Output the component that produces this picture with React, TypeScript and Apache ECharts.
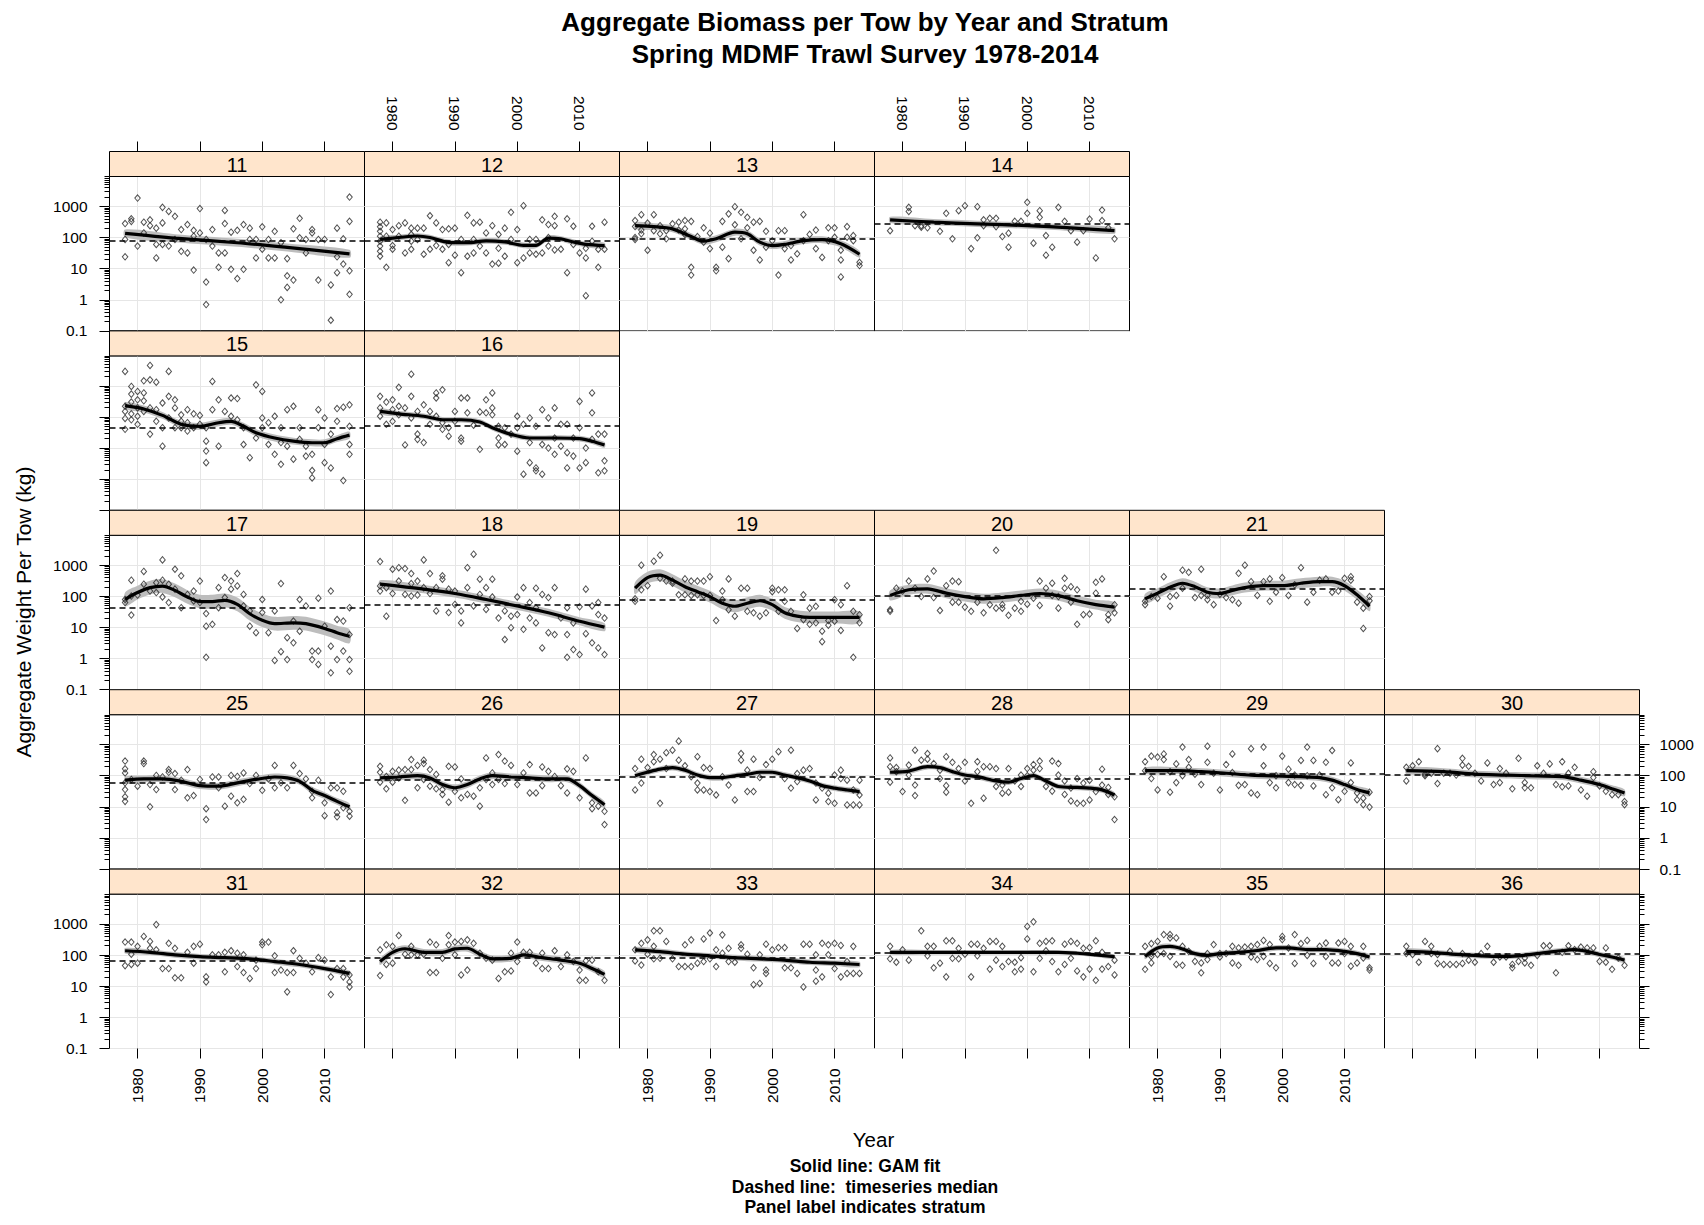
import React, { useEffect, useRef } from 'react';
import * as echarts from 'echarts';

// ---------------- data ----------------
const strata = ['11','12','13','14','15','16','17','18','19','20','21','25','26','27','28','29','30','31','32','33','34','35','36'];

const yearTicks = [1980, 1990, 2000, 2010];
const yearTickLabels = ['1980', '1990', '2000', '2010'];
const yTickValues = [0.1, 1, 10, 100, 1000];
const yTickLabels = ['0.1', '1', '10', '100', '1000'];
const yMinorValues = [0.2,0.3,0.4,0.5,0.6,0.7,0.8,0.9,2,3,4,5,6,7,8,9,20,30,40,50,60,70,80,90,200,300,400,500,600,700,800,900,2000,3000,4000,5000,6000,7000,8000,9000];

type P = [number, number][];

const pts11: P = [[1978,87],[1978,24],[1978,280],[1979,400],[1979,330],[1980,1850],[1980,53],[1981,310],[1981,140],[1982,370],[1982,240],[1983,200],[1983,22],[1983,60],[1984,930],[1984,295],[1984,60],[1985,690],[1985,53],[1986,480],[1986,87],[1987,180],[1987,36],[1988,260],[1988,32],[1989,170],[1989,110],[1989,9],[1990,850],[1990,140],[1991,3.7],[1991,0.7],[1991,87],[1992,180],[1992,53],[1993,11],[1993,32],[1994,740],[1994,280],[1994,32],[1995,148],[1995,9.5],[1996,170],[1996,4.8],[1997,260],[1997,9.5],[1998,200],[1998,87],[1999,22],[1999,87],[2000,220],[2000,42],[2001,87],[2001,22],[2002,158],[2002,22],[2003,1.0],[2003,68],[2004,5.9],[2004,2.5],[2004,21],[2005,190],[2005,4.3],[2006,415],[2006,98],[2007,32],[2007,87],[2008,180],[2008,140],[2009,4.3],[2009,87],[2010,87],[2011,3],[2011,0.22],[2012,200],[2012,24],[2012,7.4],[2013,14],[2013,91],[2014,2000],[2014,330],[2014,8.5],[2014,1.5]];
const pts12: P = [[1978,310],[1978,220],[1978,158],[1978,110],[1978,76],[1978,53],[1978,36],[1978,25],[1979,11],[1979,295],[1979,110],[1980,180],[1980,55],[1980,42],[1981,240],[1981,110],[1982,295],[1982,32],[1983,200],[1983,125],[1983,76],[1983,42],[1984,200],[1984,87],[1985,200],[1985,29],[1986,500],[1986,42],[1987,295],[1987,55],[1988,180],[1988,42],[1989,190],[1989,15.5],[1989,60],[1990,200],[1990,27],[1991,7.4],[1991,87],[1992,515],[1992,25],[1993,295],[1993,87],[1993,32],[1994,310],[1994,53],[1995,140],[1995,32],[1996,240],[1996,14],[1997,125],[1997,15],[1997,45],[1998,200],[1998,25],[1999,645],[1999,87],[2000,180],[2000,15.5],[2001,1050],[2001,22],[2002,87],[2002,32],[2003,87],[2003,29],[2004,370],[2004,32],[2005,260],[2005,53],[2005,100],[2006,480],[2006,240],[2006,40],[2007,42],[2008,400],[2008,7.4],[2009,230],[2009,60],[2010,32],[2011,1.35],[2011,22],[2011,45],[2012,230],[2012,76],[2013,11],[2013,42],[2014,310],[2014,42]];
const pts13: P = [[1978,350],[1978,225],[1978,100],[1978,87],[1979,540],[1979,174],[1979,132],[1980,290],[1980,39],[1981,540],[1981,166],[1982,240],[1982,132],[1983,166],[1983,91],[1984,275],[1985,310],[1985,174],[1986,350],[1986,190],[1986,125],[1987,330],[1987,11],[1987,6.2],[1988,107],[1989,205],[1989,71],[1990,138],[1990,44],[1991,11],[1991,8.5],[1992,330],[1992,49],[1993,575],[1993,21],[1994,980],[1994,257],[1995,645],[1995,91],[1996,447],[1996,205],[1997,310],[1997,39],[1998,330],[1998,19],[1999,158],[1999,49],[2000,79],[2001,166],[2001,6.2],[2002,166],[2002,44],[2003,55],[2003,19],[2004,30],[2005,540],[2005,79],[2006,126],[2007,174],[2007,44],[2008,23],[2009,205],[2009,79],[2010,205],[2010,102],[2011,39],[2011,19],[2011,5.4],[2012,224],[2012,102],[2013,115],[2013,79],[2014,16],[2014,12.6]];
const pts14: P = [[1978,165],[1981,930],[1981,690],[1982,240],[1983,240],[1983,215],[1984,205],[1986,158],[1987,600],[1988,91],[1989,725],[1990,1050],[1991,44],[1992,980],[1992,98],[1993,370],[1993,240],[1994,415],[1995,415],[1995,224],[1996,107],[1997,138],[1997,49],[1998,330],[1999,330],[2000,1350],[2000,600],[2001,66],[2002,725],[2002,447],[2003,115],[2003,27],[2004,49],[2005,930],[2006,330],[2007,166],[2008,71],[2009,166],[2010,390],[2011,22],[2012,760],[2012,350],[2013,205],[2014,91]];
const pts15: P = [[1978,2900],[1978,220],[1978,150],[1978,89],[1978,40],[1979,950],[1979,540],[1979,300],[1979,126],[1979,81],[1980,660],[1980,355],[1980,195],[1980,105],[1980,58],[1981,1450],[1981,590],[1981,330],[1981,150],[1982,4500],[1982,1550],[1982,195],[1982,28],[1983,1300],[1983,170],[1983,72],[1984,280],[1984,45],[1984,11.5],[1985,2900],[1985,457],[1985,93],[1986,355],[1986,195],[1986,45],[1987,117],[1987,72],[1987,45],[1988,170],[1988,65],[1988,35],[1989,126],[1989,45],[1990,112],[1990,58],[1991,16.6],[1991,8],[1991,3.4],[1991,45],[1992,1380],[1992,170],[1993,355],[1993,11.5],[1994,150],[1995,405],[1995,105],[1996,390],[1996,81],[1997,45],[1997,13],[1998,4.9],[1999,1070],[1999,21],[2000,660],[2000,93],[2000,45],[2001,65],[2001,13],[2002,105],[2002,6.3],[2003,45],[2003,15],[2003,3],[2004,170],[2004,11.5],[2005,220],[2005,4.4],[2006,45],[2006,19],[2007,11.5],[2007,5.5],[2008,6.3],[2008,1.9],[2008,1.1],[2009,170],[2009,45],[2010,93],[2010,13],[2010,3.4],[2011,28],[2011,2.3],[2012,186],[2012,72],[2013,205],[2013,0.9],[2014,245],[2014,50],[2014,13],[2014,6.3]];
const pts16: P = [[1978,457],[1978,195],[1978,105],[1979,300],[1979,58],[1980,355],[1980,170],[1980,72],[1981,890],[1981,220],[1981,117],[1982,195],[1982,12.6],[1983,2350],[1983,457],[1983,93],[1984,150],[1984,28],[1984,19],[1985,245],[1985,15],[1986,150],[1986,58],[1987,590],[1987,405],[1987,105],[1988,745],[1988,65],[1988,40],[1989,45],[1989,24],[1990,150],[1990,72],[1991,405],[1991,21],[1991,16.6],[1992,405],[1992,135],[1993,54],[1994,145],[1994,9.1],[1995,355],[1995,135],[1996,590],[1996,195],[1996,117],[1997,50],[1997,21],[1997,12.6],[1998,45],[1998,13],[1999,28],[2000,105],[2000,45],[2000,7.9],[2001,58],[2001,1.45],[2002,93],[2002,15],[2002,3.4],[2003,50],[2003,2.3],[2003,1.85],[2004,170],[2004,13],[2004,1.45],[2005,93],[2005,10],[2006,195],[2006,21],[2006,6.3],[2007,58],[2007,11.5],[2008,58],[2008,7.1],[2008,2.3],[2009,21],[2009,5.5],[2010,316],[2010,45],[2010,2.3],[2011,10],[2011,3.4],[2012,590],[2012,135],[2012,19],[2013,28],[2013,1.6],[2014,28],[2014,3.9],[2014,1.85]];
const pts17: P = [[1978,63],[1978,79],[1979,330],[1979,102],[1979,25],[1980,110],[1981,630],[1981,245],[1982,148],[1983,275],[1983,132],[1984,1480],[1984,330],[1984,95],[1985,245],[1985,63],[1986,740],[1986,170],[1987,457],[1987,43],[1988,115],[1989,148],[1989,71],[1990,310],[1990,63],[1991,28],[1991,11],[1991,1.1],[1992,12.6],[1993,190],[1993,43],[1994,400],[1994,91],[1995,310],[1995,170],[1996,540],[1996,215],[1997,115],[1997,49],[1998,34],[1998,11],[1999,6.8],[2000,79],[2000,30],[2001,6.8],[2002,34],[2002,0.87],[2003,257],[2003,1.66],[2004,4.7],[2004,0.93],[2005,16],[2005,3.2],[2006,79],[2006,7.6],[2007,49],[2008,1.74],[2008,0.93],[2009,87],[2009,1.74],[2009,0.65],[2010,11],[2011,148],[2011,2.5],[2011,0.35],[2012,18],[2012,0.93],[2013,1.74],[2013,16],[2014,43],[2014,5.9],[2014,0.93],[2014,0.39]];
const pts18: P = [[1978,1310],[1978,215],[1978,148],[1979,190],[1979,23],[1980,740],[1980,123],[1981,830],[1981,310],[1982,780],[1982,115],[1983,540],[1983,257],[1983,102],[1984,310],[1984,110],[1985,1480],[1985,190],[1986,540],[1986,123],[1987,190],[1987,34],[1988,457],[1988,355],[1989,170],[1989,30],[1990,148],[1990,55],[1991,34],[1991,14],[1992,830],[1992,190],[1993,2250],[1993,49],[1994,355],[1994,115],[1995,190],[1995,38],[1996,355],[1996,95],[1997,20],[1998,4.1],[1998,34],[1999,23],[1999,9.8],[2000,95],[2000,26],[2001,190],[2001,8.7],[2002,63],[2002,20],[2003,182],[2003,43],[2003,14],[2004,115],[2004,2.2],[2005,91],[2005,6.8],[2006,190],[2006,5.9],[2007,20],[2008,43],[2008,5.9],[2008,1.1],[2009,14],[2009,1.95],[2010,46],[2010,1.35],[2011,170],[2011,6.3],[2012,49],[2012,3.2],[2013,63],[2013,26],[2013,2.2],[2014,20],[2014,1.35]];
const pts19: P = [[1978,69],[1978,83],[1979,1000],[1979,162],[1980,219],[1981,1340],[1982,2090],[1982,380],[1983,310],[1984,310],[1984,263],[1985,112],[1986,363],[1986,112],[1987,310],[1987,107],[1988,310],[1988,112],[1989,310],[1989,107],[1990,426],[1990,107],[1991,16.6],[1992,148],[1992,78],[1993,363],[1993,37],[1994,23],[1995,182],[1996,182],[1996,33],[1997,29.5],[1998,23],[1999,29.5],[2000,182],[2000,141],[2001,162],[2001,33],[2002,162],[2002,69],[2003,33],[2004,9.3],[2005,112],[2005,17.8],[2006,41.7],[2006,12.6],[2007,47.9],[2007,14.1],[2008,7.6],[2008,3.5],[2009,16.6],[2009,11.8],[2010,78],[2010,15.8],[2011,53.7],[2011,8],[2012,219],[2013,33],[2013,1.1],[2014,25.7],[2014,14.1]];
const pts20: P = [[1978,37],[1978,33],[1979,182],[1980,148],[1981,310],[1982,182],[1983,98],[1984,363],[1985,646],[1985,91],[1986,35],[1987,219],[1988,310],[1988,65],[1989,295],[1989,65],[1990,45],[1991,33],[1992,65],[1993,29.5],[1994,53.7],[1995,3000],[1995,41.7],[1996,53.7],[1996,41.7],[1997,24.5],[1998,41.7],[1999,69],[1999,33],[2000,56],[2001,87],[2002,310],[2002,51],[2003,182],[2004,263],[2004,107],[2005,98],[2005,41.7],[2006,380],[2006,182],[2007,204],[2007,65],[2008,162],[2008,12.6],[2009,25.7],[2010,27],[2011,282],[2011,126],[2012,363],[2013,25.7],[2013,17.8],[2014,53.7],[2014,29.5]];
const pts21: P = [[1978,69],[1978,54],[1979,98],[1980,87],[1981,426],[1982,98],[1982,48],[1983,107],[1984,692],[1984,182],[1985,589],[1986,91],[1987,741],[1987,107],[1988,107],[1988,78],[1989,54],[1990,117],[1991,91],[1992,78],[1993,550],[1993,60],[1994,1000],[1995,295],[1996,107],[1997,295],[1998,363],[1998,69],[1999,135],[2000,398],[2001,107],[2002,234],[2003,832],[2004,65],[2005,135],[2006,331],[2007,363],[2008,135],[2009,148],[2010,380],[2011,426],[2011,331],[2012,65],[2013,41.7],[2013,9.3],[2014,98],[2014,72]];
const pts25: P = [[1978,295],[1978,166],[1978,123],[1978,59],[1978,36],[1978,21],[1978,15],[1979,76],[1980,46],[1981,295],[1981,245],[1982,52],[1982,10],[1983,36],[1983,102],[1984,91],[1985,158],[1985,129],[1986,117],[1986,36],[1987,72],[1988,158],[1988,19.5],[1989,23],[1990,76],[1991,8.7],[1991,3.9],[1992,91],[1993,91],[1993,41],[1994,10.5],[1995,102],[1995,22],[1996,95],[1996,13.5],[1997,123],[1997,17.4],[1998,56],[1999,102],[2000,34],[2001,79],[2002,214],[2002,41],[2003,59],[2004,41],[2005,214],[2006,117],[2007,79],[2008,31.6],[2008,19.5],[2009,72],[2010,13.5],[2010,5.2],[2011,41],[2012,41],[2012,6.5],[2012,4.8],[2013,31.6],[2013,9.3],[2014,7.2],[2014,5]];
const pts26: P = [[1978,200],[1978,129],[1978,62],[1979,95],[1979,38],[1980,138],[1980,62],[1981,151],[1981,85],[1982,158],[1982,16.2],[1983,331],[1983,158],[1984,214],[1984,41],[1985,316],[1985,245],[1985,76],[1986,158],[1986,46],[1987,110],[1987,38],[1988,36],[1988,25],[1989,200],[1989,14.1],[1990,191],[1990,31.6],[1991,79],[1991,19.5],[1992,25],[1993,22],[1994,41],[1994,10.5],[1995,372],[1995,76],[1996,123],[1996,52],[1997,479],[1997,76],[1998,295],[1998,56],[1999,214],[2000,52],[2001,123],[2002,229],[2002,28],[2003,28],[2004,191],[2004,48],[2005,138],[2006,95],[2007,48],[2008,166],[2008,28],[2009,138],[2010,19.5],[2011,372],[2012,13.5],[2012,8.7],[2013,10.5],[2014,7.2],[2014,2.7]];
const pts27: P = [[1978,170],[1978,35],[1979,340],[1979,58],[1980,182],[1981,479],[1981,282],[1982,340],[1982,13],[1983,550],[1983,170],[1984,660],[1985,1290],[1985,316],[1986,209],[1987,93],[1988,407],[1988,58],[1988,35],[1989,182],[1989,35],[1990,170],[1990,31],[1991,24],[1992,93],[1993,50],[1994,16.6],[1995,513],[1995,316],[1996,151],[1996,31],[1997,340],[1997,31],[1998,87],[1999,229],[2000,340],[2001,589],[2002,81],[2003,660],[2003,40],[2004,117],[2004,65],[2005,151],[2006,170],[2007,58],[2007,16.6],[2008,40],[2009,27.5],[2009,14.8],[2010,105],[2010,13],[2011,151],[2011,81],[2012,72],[2012,11.5],[2013,35],[2013,11.5],[2014,72],[2014,24],[2014,11.5]];
const pts28: P = [[1978,372],[1978,195],[1978,62],[1979,182],[1979,135],[1980,31],[1981,219],[1981,105],[1982,660],[1982,50],[1982,23],[1983,316],[1984,513],[1984,340],[1985,245],[1986,151],[1986,81],[1987,407],[1987,48],[1987,29.5],[1988,269],[1989,170],[1990,269],[1990,68],[1991,13],[1992,282],[1992,135],[1993,195],[1993,19],[1994,195],[1995,170],[1995,45],[1996,50],[1996,27.5],[1997,170],[1997,29.5],[1998,68],[1999,105],[1999,45],[2000,170],[2000,100],[2001,229],[2001,151],[2002,295],[2002,170],[2003,45],[2004,295],[2004,32],[2005,245],[2005,105],[2006,68],[2006,25],[2007,40],[2007,15.5],[2008,81],[2008,13],[2009,58],[2009,13],[2010,72],[2010,16.6],[2011,31],[2012,162],[2012,50],[2013,42],[2013,25],[2014,21],[2014,3.9]];
const pts29: P = [[1978,282],[1978,145],[1979,426],[1979,81],[1980,398],[1980,35],[1981,501],[1981,331],[1982,135],[1982,29.5],[1983,240],[1983,60],[1984,832],[1984,100],[1985,331],[1985,186],[1986,112],[1987,52],[1988,891],[1988,269],[1989,120],[1990,35],[1991,229],[1992,501],[1992,126],[1993,49],[1994,52],[1995,741],[1995,28],[1996,24.5],[1997,832],[1997,209],[1998,60],[1999,100],[1999,41],[2000,426],[2001,162],[2001,60],[2002,105],[2002,52],[2003,309],[2003,49],[2004,832],[2004,100],[2005,309],[2005,47],[2006,105],[2007,269],[2007,24.5],[2008,646],[2008,41],[2009,17],[2010,31.6],[2011,257],[2011,60],[2012,28],[2012,17],[2013,19],[2013,11.7],[2014,29.5],[2014,9.8]];
const pts30: P = [[1979,186],[1979,68],[1980,209],[1981,282],[1982,112],[1982,100],[1983,120],[1984,741],[1984,56],[1985,120],[1986,120],[1987,105],[1988,363],[1988,219],[1989,200],[1990,120],[1991,68],[1992,257],[1993,52],[1994,170],[1994,60],[1995,120],[1996,38],[1997,363],[1998,60],[1998,41],[1999,41],[2000,209],[2001,120],[2002,240],[2003,52],[2004,282],[2004,44],[2005,120],[2005,47],[2006,186],[2007,35],[2008,22],[2009,135],[2009,87],[2010,47],[2011,31.6],[2012,24.5],[2013,24.5],[2014,14.8],[2014,11.7]];
const pts31: P = [[1978,263],[1978,46],[1979,263],[1979,107],[1979,50],[1980,191],[1980,55],[1981,398],[1982,275],[1982,166],[1983,955],[1983,148],[1984,37],[1985,240],[1985,37],[1986,166],[1986,18.6],[1987,18.6],[1988,123],[1989,191],[1989,55],[1990,224],[1991,20],[1991,13.8],[1992,102],[1993,102],[1994,123],[1994,29],[1995,138],[1996,115],[1996,43],[1997,102],[1997,27.5],[1998,17.8],[1999,69],[1999,37],[2000,214],[2000,263],[2001,263],[2002,95],[2002,27.5],[2003,33],[2004,6.6],[2004,27.5],[2005,138],[2005,27.5],[2006,79],[2007,55],[2008,29],[2009,83],[2010,69],[2011,20],[2011,5.4],[2012,37],[2013,37],[2013,20],[2014,23],[2014,13.8],[2014,9.5]];
const pts32: P = [[1978,148],[1978,22],[1979,214],[1979,50],[1980,191],[1980,55],[1981,426],[1982,107],[1983,191],[1983,102],[1984,102],[1985,107],[1986,263],[1986,27.5],[1987,214],[1987,27.5],[1988,79],[1989,426],[1989,214],[1990,263],[1990,102],[1991,275],[1991,23],[1992,309],[1992,33],[1993,240],[1994,115],[1995,79],[1996,69],[1997,17.8],[1998,29],[1999,115],[1999,31],[2000,263],[2000,62],[2001,123],[2002,123],[2003,55],[2004,115],[2004,37],[2005,37],[2006,138],[2007,43],[2008,102],[2009,62],[2010,33],[2010,15.5],[2011,65],[2011,15.5],[2012,69],[2013,29],[2014,15.5]];
const pts33: P = [[1978,148],[1978,65],[1979,240],[1979,48],[1980,309],[1980,107],[1981,603],[1981,191],[1981,76],[1982,603],[1982,79],[1983,275],[1984,76],[1985,43],[1986,214],[1986,43],[1987,309],[1987,43],[1988,55],[1989,331],[1989,62],[1990,513],[1990,76],[1991,148],[1991,43],[1992,447],[1992,115],[1993,166],[1993,62],[1994,59],[1995,214],[1995,166],[1996,107],[1997,39],[1997,11.2],[1998,102],[1998,12.3],[1999,224],[1999,33],[1999,25.7],[2000,148],[2001,174],[2002,174],[2002,39],[2003,39],[2004,25.7],[2005,224],[2005,9.5],[2006,224],[2007,102],[2007,33],[2007,14.5],[2008,240],[2008,20],[2009,214],[2009,102],[2010,240],[2010,37],[2011,204],[2011,20],[2012,62],[2012,25.7],[2013,191],[2013,25.7],[2014,25.7]];
const pts34: P = [[1978,191],[1978,76],[1979,59],[1980,148],[1981,69],[1983,603],[1984,191],[1984,95],[1985,191],[1985,39],[1986,55],[1987,288],[1987,20],[1988,288],[1988,79],[1989,166],[1989,76],[1990,107],[1991,224],[1991,20],[1992,224],[1992,95],[1993,166],[1994,275],[1994,35.5],[1995,275],[1995,69],[1996,191],[1996,43],[1997,62],[1998,59],[1998,29],[1999,83],[1999,35.5],[2000,832],[2000,331],[2001,1175],[2001,29],[2002,240],[2002,79],[2003,275],[2003,138],[2004,288],[2004,62],[2005,29],[2006,224],[2006,50],[2007,275],[2007,79],[2008,240],[2008,31],[2009,166],[2009,20],[2010,174],[2010,35.5],[2011,288],[2011,15.5],[2012,123],[2012,35.5],[2013,43],[2014,69],[2014,23]];
const pts35: P = [[1978,191],[1978,35],[1979,234],[1979,112],[1979,91],[1979,56],[1980,275],[1980,105],[1981,457],[1981,112],[1982,457],[1982,355],[1982,91],[1983,355],[1983,50],[1984,191],[1984,47],[1985,132],[1986,63],[1987,56],[1987,27],[1988,112],[1988,72],[1989,219],[1990,112],[1990,87],[1991,112],[1992,191],[1992,56],[1993,170],[1993,47],[1994,182],[1995,191],[1995,87],[1996,72],[1996,219],[1997,295],[1997,91],[1998,219],[1998,54],[1999,39],[2000,398],[2000,316],[2001,170],[2002,457],[2002,54],[2003,234],[2004,295],[2004,98],[2005,54],[2006,191],[2007,245],[2007,91],[2008,56],[2009,245],[2009,56],[2010,275],[2010,112],[2011,191],[2011,44],[2012,56],[2013,191],[2013,81],[2014,39],[2014,33]];
const pts36: P = [[1979,191],[1979,112],[1980,105],[1981,59],[1982,275],[1983,191],[1983,112],[1984,105],[1984,54],[1985,50],[1986,132],[1986,50],[1987,50],[1988,112],[1988,54],[1989,69],[1990,59],[1991,112],[1992,191],[1993,59],[1994,87],[1995,87],[1996,50],[1996,39],[1997,63],[1998,81],[1998,56],[1999,47],[2000,98],[2001,200],[2002,200],[2003,27],[2004,123],[2005,200],[2006,150],[2007,182],[2008,170],[2009,170],[2010,63],[2011,170],[2011,59],[2012,35],[2013,81],[2014,47]];

// GAM fit (kg) read at a few years along each solid line
const fit11: P = [[1978,135],[1986,95],[1996,68],[2004,48],[2014,30]];
const fit12: P = [[1978,87],[1981,100],[1984,112],[1986,100],[1989,70],[1992,68],[1995,78],[1998,72],[2001,56],[2003,56],[2005,95],[2007,90],[2009,72],[2011,60],[2014,55]];
const fit13: P = [[1978,240],[1981,224],[1984,190],[1987,107],[1989,76],[1991,91],[1994,148],[1996,132],[1998,71],[2000,55],[2002,60],[2005,79],[2008,85],[2011,63],[2014,29]];
const fit14: P = [[1978,370],[1985,310],[1992,275],[2000,240],[2007,204],[2014,166]];
const fit15: P = [[1978,230],[1981,180],[1984,112],[1987,58],[1990,50],[1993,65],[1995,72],[1997,50],[1999,31],[2002,21],[2005,16.6],[2008,14.8],[2010,14.8],[2012,20],[2014,26]];
const fit16: P = [[1978,151],[1981,126],[1985,105],[1988,81],[1991,81],[1994,69],[1996,45],[1999,27.5],[2002,21],[2006,21],[2010,20],[2012,16.6],[2014,12.6]];
const fit17: P = [[1978,80],[1980,132],[1982,190],[1984,214],[1986,155],[1988,95],[1990,68],[1992,68],[1994,74],[1996,55],[1998,27.5],[2000,17],[2002,13.2],[2005,14.1],[2007,13.2],[2010,9.3],[2012,6.8],[2014,5.2]];
const fit18: P = [[1978,245],[1985,170],[1990,123],[1995,79],[2000,49],[2005,29.5],[2010,15.8],[2014,10.2]];
const fit19: P = [[1978,182],[1980,398],[1982,479],[1984,331],[1986,204],[1988,141],[1990,98],[1992,60],[1994,48],[1996,60],[1998,72],[2000,54],[2002,29.5],[2004,23],[2006,21],[2010,21],[2014,21]];
const fit20: P = [[1978,107],[1981,162],[1984,174],[1987,126],[1990,98],[1993,83],[1996,91],[1999,107],[2002,123],[2005,105],[2008,72],[2011,54],[2014,45]];
const fit21: P = [[1978,83],[1980,126],[1982,195],[1984,263],[1986,204],[1988,135],[1990,123],[1992,155],[1994,191],[1997,219],[2000,219],[2003,263],[2006,295],[2008,295],[2010,219],[2012,112],[2014,48]];
const fit25: P = [[1978,72],[1981,79],[1984,79],[1987,66],[1990,48],[1993,46],[1996,59],[1999,76],[2002,91],[2004,85],[2006,66],[2008,34],[2010,23],[2012,15],[2014,10]];
const fit26: P = [[1978,85],[1981,91],[1984,100],[1986,85],[1988,52],[1990,41],[1992,52],[1994,79],[1996,100],[1999,91],[2002,85],[2005,79],[2008,79],[2010,48],[2012,23],[2014,11.7]];
const fit27: P = [[1978,100],[1980,129],[1982,162],[1984,182],[1986,151],[1988,105],[1990,87],[1992,87],[1994,100],[1996,110],[1998,129],[2000,129],[2002,105],[2004,87],[2006,68],[2008,48],[2010,40],[2012,35],[2014,31]];
const fit28: P = [[1978,129],[1981,141],[1984,195],[1986,182],[1988,135],[1990,105],[1992,93],[1995,68],[1997,62],[1999,81],[2001,100],[2003,68],[2005,45],[2008,42],[2010,40],[2012,35],[2014,24]];
const fit29: P = [[1978,145],[1983,145],[1987,135],[1991,120],[1995,105],[1999,98],[2003,93],[2006,87],[2008,72],[2010,52],[2012,36],[2014,28]];
const fit30: P = [[1979,145],[1985,135],[1990,112],[1995,105],[2000,98],[2004,93],[2007,72],[2010,52],[2012,38],[2014,28]];
const fit31: P = [[1978,138],[1982,123],[1986,102],[1990,89],[1994,83],[1998,76],[2002,62],[2006,50],[2010,37],[2014,26]];
const fit32: P = [[1978,62],[1980,123],[1982,160],[1985,123],[1988,123],[1990,158],[1992,166],[1994,107],[1996,76],[1999,79],[2001,102],[2004,83],[2007,69],[2010,55],[2012,37],[2014,24]];
const fit33: P = [[1978,148],[1982,129],[1986,107],[1990,95],[1994,83],[1998,76],[2002,69],[2006,59],[2010,55],[2014,50]];
const fit34: P = [[1978,123],[1985,123],[1990,123],[1995,123],[2000,123],[2005,123],[2008,115],[2011,102],[2014,89]];
const fit35: P = [[1978,91],[1980,170],[1982,190],[1984,158],[1986,112],[1988,98],[1990,112],[1993,123],[1996,141],[1999,170],[2001,170],[2004,151],[2007,151],[2010,132],[2012,112],[2014,87]];
const fit36: P = [[1979,132],[1983,123],[1987,105],[1991,95],[1994,91],[1997,95],[2000,112],[2003,132],[2006,151],[2008,132],[2010,105],[2012,87],[2014,69]];

// timeseries medians (kg) and GAM band half-widths (log10 units)
const medianKg = [81, 79, 90, 275, 45, 54, 43, 52, 78, 102, 170, 59, 72, 93, 82, 112, 105, 66, 83, 83, 123, 112, 112];
const bandHalfLog = [0.13, 0.09, 0.11, 0.1, 0.11, 0.09, 0.22, 0.13, 0.19, 0.16, 0.16, 0.11, 0.11, 0.09, 0.09, 0.11, 0.11, 0.09, 0.11, 0.09, 0.07, 0.09, 0.09];

const ptsAll = [pts11, pts12, pts13, pts14, pts15, pts16, pts17, pts18, pts19, pts20, pts21, pts25, pts26, pts27, pts28, pts29, pts30, pts31, pts32, pts33, pts34, pts35, pts36];
const fitAll = [fit11, fit12, fit13, fit14, fit15, fit16, fit17, fit18, fit19, fit20, fit21, fit25, fit26, fit27, fit28, fit29, fit30, fit31, fit32, fit33, fit34, fit35, fit36];

// ---------------- layout (row, col) ----------------
const cell: Record<string, [number, number]> = {
  '11': [0, 0], '12': [0, 1], '13': [0, 2], '14': [0, 3],
  '15': [1, 0], '16': [1, 1],
  '17': [2, 0], '18': [2, 1], '19': [2, 2], '20': [2, 3], '21': [2, 4],
  '25': [3, 0], '26': [3, 1], '27': [3, 2], '28': [3, 3], '29': [3, 4], '30': [3, 5],
  '31': [4, 0], '32': [4, 1], '33': [4, 2], '34': [4, 3], '35': [4, 4], '36': [4, 5],
};

const FONT = '"Liberation Sans", Arial, Helvetica, sans-serif';
const X_MIN = 1975.5, X_MAX = 2016.4;
const Y_MIN = -1, Y_MAX = 3.96;
const COL0 = 109.5, COLW = 255;
const ROW0 = 151.5, ROWH = 179.4, STRIP = 25, PLOTH = 154.4;
const TICK_FS = 15.5;

const lg = (v: number) => Math.log10(v);
const r6 = (v: number) => Math.round(v * 1e6) / 1e6;
const yMajorLog = yTickValues.map((v) => r6(lg(v)));
const yMinorLog = yMinorValues.map((v) => r6(lg(v))).filter((v) => v < Y_MAX);

const yFmt = (v: number) => {
  const k = yMajorLog.findIndex((t) => Math.abs(t - v) < 1e-4);
  return k < 0 ? '' : yTickLabels[k];
};
const xFmt = (v: number) => {
  const k = yearTicks.findIndex((t) => Math.abs(t - v) < 1e-4);
  return k < 0 ? '' : yearTickLabels[k];
};

function buildOption() {
  const grid: any[] = [];
  const xAxis: any[] = [];
  const yAxis: any[] = [];
  const series: any[] = [];
  const graphic: any[] = [];
  const labelStyle = { color: '#000', fontSize: TICK_FS, fontFamily: FONT };
  const tickLine = { color: '#000', width: 1 };
  const noLine = { show: false, onZero: false };

  strata.forEach((s, i) => {
    const [r, c] = cell[s];
    const left = COL0 + COLW * c;
    const stripTop = ROW0 + ROWH * r;
    const top = stripTop + STRIP;
    grid.push({
      left, top, width: COLW, height: PLOTH,
      show: true, borderColor: '#000', borderWidth: 1, backgroundColor: '#fff',
      containLabel: false, outerBoundsMode: 'none',
    });

    const xi = xAxis.length;
    xAxis.push({
      type: 'value', gridIndex: i, min: X_MIN, max: X_MAX, position: 'bottom',
      axisLine: noLine,
      axisTick: { show: r === 4, customValues: yearTicks, length: 10, lineStyle: tickLine },
      axisLabel: { show: r === 4 && c % 2 === 0, customValues: yearTicks, formatter: xFmt, rotate: 90, margin: 20, ...labelStyle },
      splitLine: { show: true, lineStyle: { color: '#e6e6e6', width: 1 } },
    });
    if (r === 0) {
      xAxis.push({
        type: 'value', gridIndex: i, min: X_MIN, max: X_MAX, position: 'top', offset: STRIP,
        axisLine: noLine,
        axisTick: { show: true, customValues: yearTicks, length: 10, lineStyle: tickLine },
        axisLabel: { show: c % 2 === 1, customValues: yearTicks, formatter: xFmt, rotate: 90, margin: 21, ...labelStyle },
        splitLine: { show: false },
      });
    }

    const yi = yAxis.length;
    yAxis.push({
      type: 'value', gridIndex: i, min: Y_MIN, max: Y_MAX, position: 'left',
      axisLine: noLine,
      axisTick: { show: c === 0, customValues: yMajorLog, length: 10, lineStyle: tickLine },
      axisLabel: { show: c === 0 && r % 2 === 0, customValues: yMajorLog, formatter: yFmt, margin: 22, ...labelStyle },
      splitLine: { show: true, lineStyle: { color: '#e6e6e6', width: 1 } },
    });
    if (c === 0) {
      yAxis.push({
        type: 'value', gridIndex: i, min: Y_MIN, max: Y_MAX, position: 'left',
        axisLine: noLine,
        axisTick: { show: true, customValues: yMinorLog, length: 5, lineStyle: tickLine },
        axisLabel: { show: false }, splitLine: { show: false },
      });
    }
    if (c === 5) {
      yAxis.push({
        type: 'value', gridIndex: i, min: Y_MIN, max: Y_MAX, position: 'right',
        axisLine: noLine,
        axisTick: { show: true, customValues: yMajorLog, length: 10, lineStyle: tickLine },
        axisLabel: { show: r === 3, customValues: yMajorLog, formatter: yFmt, margin: 20, ...labelStyle },
        splitLine: { show: false },
      });
      yAxis.push({
        type: 'value', gridIndex: i, min: Y_MIN, max: Y_MAX, position: 'right',
        axisLine: noLine,
        axisTick: { show: true, customValues: yMinorLog, length: 5, lineStyle: tickLine },
        axisLabel: { show: false }, splitLine: { show: false },
      });
    }

    const h = bandHalfLog[i];
    const fit = fitAll[i];
    const bandData = fit.map(([yr, v]) => [yr, lg(v) - h, lg(v) + h]);
    series.push({
      type: 'custom', xAxisIndex: xi, yAxisIndex: yi, silent: true, z: 1,
      data: bandData,
      encode: { x: 0, y: [1, 2] },
      renderItem: (params: any, api: any) => {
        if (params.dataIndex !== 0) return null;
        const up = bandData.map((d) => api.coord([d[0], d[2]]));
        const lo = bandData.map((d) => api.coord([d[0], d[1]])).reverse();
        return {
          type: 'polygon',
          shape: { points: up.concat(lo), smooth: 0.3 },
          style: { fill: '#bdbdbd' },
        };
      },
    });
    series.push({
      type: 'scatter', xAxisIndex: xi, yAxisIndex: yi, silent: true, z: 2,
      symbol: 'diamond', symbolSize: [5.5, 6.5],
      itemStyle: { color: 'rgba(0,0,0,0)', borderColor: '#262626', borderWidth: 1 },
      data: ptsAll[i].map(([yr, v]) => [yr, lg(v)]),
      markLine: {
        silent: true, symbol: ['none', 'none'], label: { show: false },
        lineStyle: { color: '#000', type: [6, 4], width: 1.6 },
        data: [{ yAxis: lg(medianKg[i]) }],
      },
    });
    series.push({
      type: 'line', xAxisIndex: xi, yAxisIndex: yi, silent: true, symbol: 'none', smooth: 0.3, z: 3,
      lineStyle: { color: '#000', width: 3.2 },
      data: fit.map(([yr, v]) => [yr, lg(v)]),
    });

    graphic.push({
      type: 'rect', z: 10,
      shape: { x: left, y: stripTop, width: COLW, height: STRIP },
      style: { fill: '#ffe5cc', stroke: '#000', lineWidth: 1 },
    });
    graphic.push({
      type: 'text', z: 11, x: left + COLW / 2, y: stripTop + STRIP / 2 + 1,
      style: { text: s, fontSize: 20, fontFamily: FONT, fill: '#000', align: 'center', verticalAlign: 'middle' },
    });
  });

  const txt = (text: string, x: number, y: number, size: number, bold: boolean, rotation = 0) => ({
    type: 'text', z: 11, x, y, rotation,
    style: { text, fontSize: size, fontFamily: FONT, fontWeight: bold ? 'bold' : 'normal', fill: '#000', align: 'center', verticalAlign: 'middle' },
  });
  graphic.push(txt('Aggregate Biomass per Tow by Year and Stratum', 865, 22, 26, true));
  graphic.push(txt('Spring MDMF Trawl Survey 1978-2014', 865, 53.5, 26, true));
  graphic.push(txt('Year', 873.5, 1139, 20.5, false));
  graphic.push(txt('Solid line: GAM fit', 865, 1166, 17.5, true));
  graphic.push(txt('Dashed line:  timeseries median', 865, 1186.6, 17.5, true));
  graphic.push(txt('Panel label indicates stratum', 865, 1207.4, 17.5, true));
  graphic.push(txt('Aggregate Weight Per Tow (kg)', 23, 612, 21, false, Math.PI / 2));

  return {
    animation: false,
    backgroundColor: '#fff',
    grid, xAxis, yAxis, series, graphic,
  };
}

export default function App() {
  const ref = useRef<HTMLDivElement>(null);
  useEffect(() => {
    if (!ref.current) return;
    const chart = echarts.init(ref.current, undefined, { renderer: 'svg' });
    chart.setOption(buildOption() as any);
    return () => chart.dispose();
  }, []);
  return (
    <div
      ref={ref}
      style={{ position: 'absolute', left: 0, top: 0, width: 1704, height: 1225, background: '#fff' }}
    />
  );
}
